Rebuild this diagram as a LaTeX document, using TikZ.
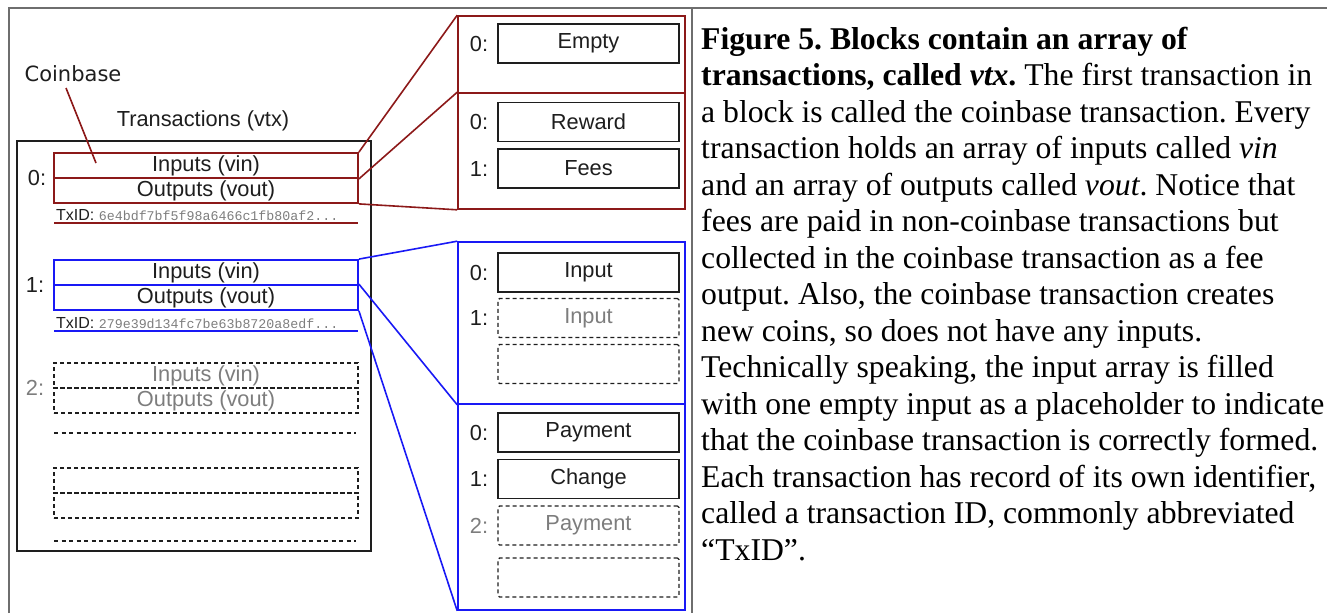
\documentclass[tikz,border=0pt]{standalone}
\usepackage{fontspec}
\setmainfont{Liberation Serif}
\setsansfont{Liberation Sans}
\setmonofont{Liberation Mono}
\newfontfamily\dejavu{DejaVu Sans}
\frenchspacing
\definecolor{txred}{RGB}{140,25,25}
\definecolor{txblue}{RGB}{25,25,245}
\definecolor{frame}{RGB}{110,110,110}
\definecolor{ink}{RGB}{30,30,30}
\definecolor{faded}{RGB}{125,125,125}
\tikzset{
  lbl/.style={font=\sffamily\fontsize{21.8}{21.8}\selectfont, text=ink, inner sep=0pt},
  ghost/.style={lbl, text=faded},
  slot/.style={draw=ink, line width=1.8pt, minimum width=181pt, minimum height=39pt, inner sep=0pt, lbl},
  dslot/.style={slot, dashed, dash pattern=on 4pt off 3pt, rounded corners=1.5pt, line width=1.4pt, text=faded},
  redbar/.style={draw=txred, line width=1.8pt, minimum width=304pt, minimum height=25pt, inner sep=0pt, lbl},
  bluebar/.style={redbar, draw=txblue},
  dashbar/.style={redbar, draw=ink, dashed, dash pattern=on 4pt off 3pt, line width=1.4pt, text=faded},
  redpanel/.style={draw=txred, line width=1.6pt, minimum width=227pt, inner sep=0pt},
  bluepanel/.style={redpanel, draw=txblue},
  link/.style={line width=1.6pt},
  txid/.style={anchor=base west, inner sep=0pt, text=ink, font=\sffamily\fontsize{16}{16}\selectfont},
  guide/.style={ink, dashed, dash pattern=on 4pt off 3.5pt, line width=1.4pt},
  body/.style={anchor=base west, inner sep=0pt, font=\fontsize{31.7}{36.5}\selectfont},
}
\newcommand{\hashtext}[1]{{\ttfamily\fontsize{13.3}{13.3}\selectfont\color{faded}#1}}
\begin{document}
\begin{tikzpicture}[x=1pt, y=-1pt]
\useasboundingbox (0,0) rectangle (1327,613);
% outer frame and column divider
\draw[frame, line width=1.5pt] (9,613) -- (9,8) -- (1327,8);
\draw[frame, line width=1.5pt] (692,8) -- (692,613);

% ---- block with its transaction vector ----
\node[draw=ink, line width=2pt, minimum width=354pt, minimum height=410pt, inner sep=0pt] (block) at (194,346) {};
\node[lbl] (vtx) at (203,121) {Transactions (vtx)};
\node[lbl, font=\dejavu\fontsize{21}{21}\selectfont] (coinbase) at (73,74) {Coinbase};
\coordinate (cbfoot) at (66,88);
\coordinate (cbtip) at (96,163);
\draw[txred, line width=1.6pt] (cbfoot) -- (cbtip);

% transaction 0 (coinbase)
\node[lbl] (n0) at (37,178) {0:};
\node[redbar] (in0) at (206,165.5) {Inputs (vin)};
\node[redbar] (out0) at (206,190.5) {Outputs (vout)};
\node[txid] (id0) at (56,220) {TxID: \hashtext{6e4bdf7bf5f98a6466c1fb80af2...}};
\coordinate (u0a) at (54,223);
\coordinate (u0b) at (358,223);
\draw[txred, line width=1.6pt] (u0a) -- (u0b);

% transaction 1
\node[lbl] (n1) at (35,285) {1:};
\node[bluebar] (in1) at (206,272.5) {Inputs (vin)};
\node[bluebar] (out1) at (206,297.5) {Outputs (vout)};
\node[txid] (id1) at (56,328) {TxID: \hashtext{279e39d134fc7be63b8720a8edf...}};
\coordinate (u1a) at (54,331);
\coordinate (u1b) at (358,331);
\draw[txblue, line width=1.6pt] (u1a) -- (u1b);

% transaction 2 and further placeholders
\node[ghost] (n2) at (35,388) {2:};
\node[dashbar] (in2) at (206,375.5) {Inputs (vin)};
\node[dashbar] (out2) at (206,400.5) {Outputs (vout)};
\coordinate (d2a) at (54,433);
\coordinate (d2b) at (356,433);
\draw[guide] (d2a) -- (d2b);
\node[dashbar] (in3) at (206,480.5) {};
\node[dashbar] (out3) at (206,505.5) {};
\coordinate (d3a) at (54,541);
\coordinate (d3b) at (356,541);
\draw[guide] (d3a) -- (d3b);

% ---- coinbase input / output arrays ----
\node[redpanel, minimum height=77pt] (pE) at (571.5,54.5) {};
\node[redpanel, minimum height=116pt] (pO) at (571.5,151) {};
\node[lbl] (e0) at (479,43.5) {0:};
\node[slot] (empty) at (588.5,43.5) {Empty};
\node[lbl] (r0) at (479,122) {0:};
\node[slot] (reward) at (588.5,122) {Reward};
\node[lbl] (f1) at (479,168.5) {1:};
\node[slot] (fees) at (588.5,168.5) {Fees};

\draw[txred, link] (in0.north east) -- (pE.north west);
\draw[txred, link] (in0.south east) -- (pO.north west);
\draw[txred, link] (out0.south east) -- (pO.south west);

% ---- regular transaction input / output arrays ----
\node[bluepanel, minimum height=162pt] (pI) at (571.5,323) {};
\node[bluepanel, minimum height=206pt] (pV) at (571.5,507) {};
\node[lbl] (i0) at (479,272.5) {0:};
\node[slot] (input0) at (588.5,272.5) {Input};
\node[lbl] (i1) at (479,318) {1:};
\node[dslot] (input1) at (588.5,318) {Input};
\node[dslot] (input2) at (588.5,364) {};
\node[lbl] (o0) at (479,432.5) {0:};
\node[slot] (pay0) at (588.5,432.5) {Payment};
\node[lbl] (o1) at (479,479) {1:};
\node[slot] (change) at (588.5,479) {Change};
\node[ghost] (o2) at (479,525.5) {2:};
\node[dslot] (pay2) at (588.5,525.5) {Payment};
\node[dslot] (pay3) at (588.5,577.5) {};

\draw[txblue, link] (in1.north east) -- (pI.north west);
\draw[txblue, link] (out1.north east) -- (pI.south west);
\draw[txblue, link] (out1.south east) -- (pV.south west);

% ---- caption ----
\node[body] (c1) at (701,49) {\textbf{Figure 5. Blocks contain an array of}};
\node[body] (c2) at (701,85.5) {\textbf{transactions, called \textit{vtx}.} The first transaction in};
\node[body] (c3) at (701,122) {a block is called the coinbase transaction. Every};
\node[body] (c4) at (701,158.5) {transaction holds an array of inputs called \textit{vin}};
\node[body] (c5) at (701,195) {and an array of outputs called \textit{vout}. Notice that};
\node[body] (c6) at (701,231.5) {fees are paid in non-coinbase transactions but};
\node[body] (c7) at (701,268) {collected in the coinbase transaction as a fee};
\node[body] (c8) at (701,304.5) {output. Also, the coinbase transaction creates};
\node[body] (c9) at (701,341) {new coins, so does not have any inputs.};
\node[body] (c10) at (701,377.5) {Technically speaking, the input array is filled};
\node[body] (c11) at (701,414) {with one empty input as a placeholder to indicate};
\node[body] (c12) at (701,450.5) {that the coinbase transaction is correctly formed.};
\node[body] (c13) at (701,487) {Each transaction has record of its own identifier,};
\node[body] (c14) at (701,523.5) {called a transaction ID, commonly abbreviated};
\node[body] (c15) at (701,560) {“TxID”.};
\end{tikzpicture}
\end{document}
